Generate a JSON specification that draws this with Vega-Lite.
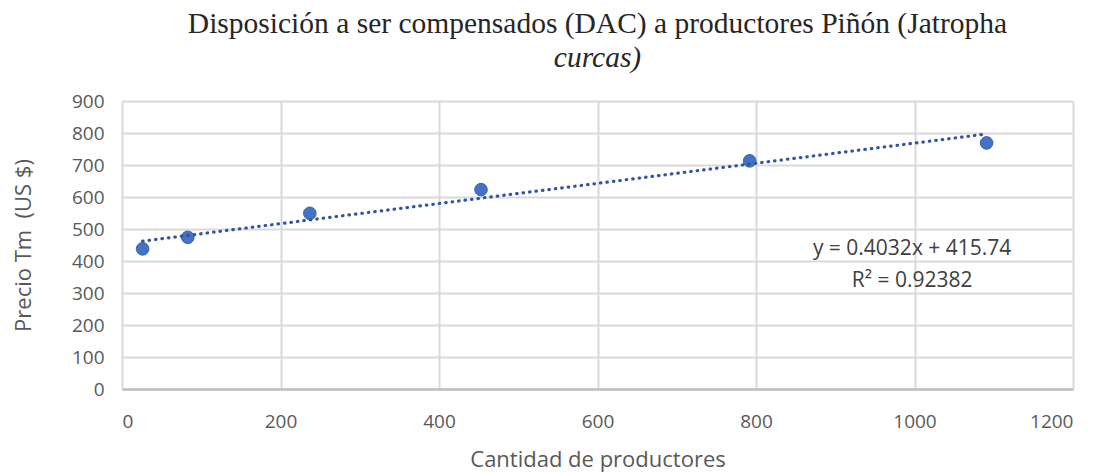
{
  "$schema": "https://vega.github.io/schema/vega-lite/v6.json",
  "width": 951,
  "height": 288,
  "autosize": "none",
  "padding": {"left": 122, "top": 101, "right": 28, "bottom": 84},
  "background": "white",
  "title": {
    "text": "Disposición a ser compensados (DAC) a productores Piñón (Jatropha",
    "subtitle": "curcas)",
    "anchor": "middle",
    "font": "Liberation Serif",
    "fontSize": 29.5,
    "fontWeight": "normal",
    "color": "#262626",
    "subtitleFont": "Liberation Serif",
    "subtitleFontSize": 29.5,
    "subtitleFontStyle": "italic",
    "subtitleColor": "#262626",
    "subtitlePadding": 4,
    "offset": 19
  },
  "config": {
    "view": {"stroke": null},
    "axis": {
      "labelFont": "Open Sans",
      "titleFont": "Open Sans",
      "labelFontSize": 19,
      "titleFontSize": 22,
      "labelColor": "#595959",
      "titleColor": "#595959",
      "titleFontWeight": "normal",
      "gridColor": "#d9d9d9",
      "gridWidth": 2,
      "ticks": false,
      "domain": false,
      "labelOverlap": false
    }
  },
  "datasets": {
    "pts": [
      {"productores": 26, "precio": 438},
      {"productores": 83, "precio": 474},
      {"productores": 237, "precio": 549},
      {"productores": 453, "precio": 623},
      {"productores": 792, "precio": 713},
      {"productores": 1091, "precio": 769}
    ],
    "trend": [
      {"productores": 26, "precio": 462},
      {"productores": 1091, "precio": 797}
    ],
    "labels": [
      {"productores": 997, "precio": 439, "texto": "y = 0.4032x + 415.74"},
      {"productores": 997, "precio": 339, "texto": "R² = 0.92382"}
    ]
  },
  "encoding": {
    "x": {
      "field": "productores", "type": "quantitative",
      "scale": {"domain": [0, 1200], "nice": false},
      "axis": {"values": [0, 200, 400, 600, 800, 1000, 1200], "format": "d", "title": "Cantidad de productores", "labelPadding": 23, "titlePadding": 18, "domain": true, "domainColor": "#bfbfbf", "domainWidth": 2.5}
    },
    "y": {
      "field": "precio", "type": "quantitative",
      "scale": {"domain": [0, 900], "nice": false},
      "axis": {"values": [0, 100, 200, 300, 400, 500, 600, 700, 800, 900], "title": "Precio Tm\u00a0\u00a0(US $)", "labelPadding": 18, "titlePadding": 36}
    }
  },
  "layer": [
    {
      "data": {"name": "pts"},
      "mark": {"type": "point", "filled": true, "size": 160, "color": "#4472C4", "opacity": 1, "stroke": "#3A64B0", "strokeWidth": 1}
    },
    {
      "data": {"name": "trend"},
      "mark": {"type": "line", "color": "#2F55A4", "strokeWidth": 3.2, "strokeDash": [0.5, 6], "strokeCap": "round"}
    },
    {
      "data": {"name": "labels"},
      "mark": {"type": "text", "font": "Open Sans", "fontSize": 21, "color": "#404040", "align": "center", "baseline": "middle"},
      "encoding": {
        "text": {"field": "texto"}
      }
    }
  ]
}
